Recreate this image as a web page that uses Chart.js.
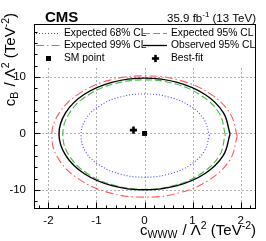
<!DOCTYPE html>
<html>
<head>
<meta charset="utf-8">
<script src="https://cdn.jsdelivr.net/npm/chart.js@4.4.1/dist/chart.umd.min.js"></script>
<style>
  html, body { margin: 0; padding: 0; background: #fff; }
  #wrap { width: 266px; height: 241px; }
</style>
</head>
<body>
<div id="wrap"><canvas id="myChart" width="266" height="241"></canvas></div>
<script>
// contour points: c_WWW (x) and c_B (y)
const exp68X = [1.35, 1.24, 0.95, 0.51, 0, -0.51, -0.94, -1.23, -1.32, -1.23, -0.94, -0.51, 0, 0.51, 0.95, 1.24, 1.35];
const exp68Y = [-0.4, 2.45, 4.85, 6.45, 7.0, 6.45, 4.85, 2.45, -0.4, -3.2, -5.6, -7.2, -7.76, -7.2, -5.6, -3.2, -0.4];
const exp95X = [1.68, 1.56, 1.19, 0.65, 0, -0.65, -1.2, -1.57, -1.70, -1.57, -1.2, -0.65, 0, 0.65, 1.19, 1.56, 1.68];
const exp95Y = [-0.2, 3.5, 6.65, 8.75, 9.5, 8.75, 6.65, 3.5, -0.2, -3.9, -7.05, -9.15, -9.9, -9.15, -7.05, -3.9, -0.2];
const exp99X = [1.93, 1.78, 1.36, 0.74, 0, -0.74, -1.36, -1.78, -1.93, -1.78, -1.36, -0.74, 0, 0.74, 1.36, 1.78, 1.93];
const exp99Y = [-0.5, 3.55, 7.05, 9.4, 10.2, 9.4, 7.05, 3.55, -0.5, -4.65, -8.15, -10.5, -11.3, -10.5, -8.15, -4.65, -0.5];
const obs95X = [1.78, 1.64, 1.26, 0.68, 0, -0.68, -1.26, -1.64, -1.78, -1.64, -1.26, -0.68, 0, 0.68, 1.26, 1.64, 1.78];
const obs95Y = [-0.1, 3.7, 6.9, 9.05, 9.8, 9.05, 6.9, 3.7, -0.1, -3.9, -7.1, -9.25, -10.0, -9.25, -7.1, -3.9, -0.1];
const smPoint = [0, 0];
const bestFit = [-0.23, 0.58];

const xTickVals = [-2, -1, 0, 1, 2];
const yTickVals = [-10, 0, 10];

const FONT = "'Liberation Sans', Arial, Helvetica, sans-serif";

const BLUE = 'rgb(70,70,250)';
const GREEN = 'rgb(70,185,70)';
const RED = 'rgb(255,90,90)';
const BLACK = '#000';

function toPts(xs, ys) {
  return xs.map((x, i) => ({ x: x, y: ys[i] }));
}

function contour(xs, ys, color, dash, width) {
  return {
    data: toPts(xs, ys),
    showLine: true,
    borderColor: color,
    borderWidth: width,
    borderDash: dash,
    pointRadius: 0,
    tension: 0.4,
    fill: false
  };
}

// index 0 is drawn on top
const datasets = [
  { data: [{ x: bestFit[0], y: bestFit[1] }], pointStyle: 'cross', pointRadius: 3.6, borderWidth: 2.6, borderColor: BLACK, backgroundColor: BLACK },
  { data: [{ x: smPoint[0], y: smPoint[1] }], pointStyle: 'rect', pointRadius: 3.5, borderWidth: 0, backgroundColor: BLACK },
  contour(obs95X, obs95Y, BLACK, [], 1.4),
  contour(exp95X, exp95Y, GREEN, [7, 3], 1.1),
  contour(exp68X, exp68Y, BLUE, [1, 2], 1.1),
  contour(exp99X, exp99Y, RED, [8, 3, 1.5, 3], 1.1)
];

function line(ctx, x1, y1, x2, y2) {
  ctx.beginPath(); ctx.moveTo(x1, y1); ctx.lineTo(x2, y2); ctx.stroke();
}

// draws text pieces in a row; pieces: [text, size, dy, extra gap]
function pieces(ctx, parts, x, y) {
  let cx = x;
  parts.forEach(p => {
    ctx.font = p[1] + 'px ' + FONT;
    ctx.fillText(p[0], cx, y + p[2]);
    cx += ctx.measureText(p[0]).width + (p[3] || 0);
  });
  return cx;
}
function piecesWidth(ctx, parts) {
  let w = 0;
  parts.forEach(p => { ctx.font = p[1] + 'px ' + FONT; w += ctx.measureText(p[0]).width + (p[3] || 0); });
  return w;
}

const legendH = 42.5;

const framePlugin = {
  id: 'frame',
  beforeDatasetsDraw(chart) {
    const { ctx, chartArea: a, scales: { x, y } } = chart;
    ctx.save();
    ctx.strokeStyle = '#b0b0b0';
    ctx.lineWidth = 1;
    ctx.setLineDash([2, 2]);
    xTickVals.forEach(v => {
      const px = Math.round(x.getPixelForValue(v)) + 0.5;
      line(ctx, px, a.top, px, a.bottom);
    });
    yTickVals.forEach(v => {
      const py = Math.round(y.getPixelForValue(v)) + 0.5;
      line(ctx, a.left, py, a.right, py);
    });
    ctx.setLineDash([]);
    ctx.fillStyle = '#fff';
    ctx.fillRect(a.left, a.top, a.right - a.left, legendH);
    ctx.restore();
  },
  afterDraw(chart) {
    const { ctx, chartArea: a, scales: { x, y } } = chart;
    ctx.save();
    ctx.strokeStyle = '#000';
    ctx.lineWidth = 1;
    const L = Math.round(a.left) + 0.5, R = Math.round(a.right) - 0.5;
    const T = Math.round(a.top) + 0.5, B = Math.round(a.bottom) - 0.5;
    ctx.strokeRect(L, T, R - L, B - T);

    // tick marks inside the frame
    for (let i = -22; i <= 22; i += 2) {
      const px = Math.round(x.getPixelForValue(i / 10)) + 0.5;
      const len = (i % 10 === 0) ? 6 : 3;
      line(ctx, px, B, px, B - len);
    }
    for (let v = -12; v <= 18; v += 2) {
      const py = Math.round(y.getPixelForValue(v)) + 0.5;
      const len = (v % 10 === 0) ? 6 : 3;
      line(ctx, L, py, L + len, py);
    }

    // legend
    const rows = [a.top + 9, a.top + 21, a.top + 34];
    const c1 = a.left + 2, c2 = a.left + 109;
    ctx.textBaseline = 'middle';
    ctx.fillStyle = '#000';
    ctx.font = '10.3px ' + FONT;
    const sample = (cx, cy, color, dash, w) => {
      ctx.strokeStyle = color; ctx.lineWidth = w; ctx.setLineDash(dash);
      line(ctx, cx, cy + 0.5, cx + 24, cy + 0.5);
      ctx.setLineDash([]);
    };
    sample(c1, rows[0], BLUE, [1, 2], 1.1);
    ctx.fillText('Expected 68% CL', c1 + 28, rows[0]);
    sample(c2, rows[0], GREEN, [7, 3], 1.2);
    ctx.fillText('Expected 95% CL', c2 + 28, rows[0]);
    sample(c1, rows[1], RED, [8, 3, 1.5, 3], 1.1);
    ctx.fillText('Expected 99% CL', c1 + 28, rows[1]);
    sample(c2, rows[1], BLACK, [], 1.3);
    ctx.fillText('Observed 95% CL', c2 + 28, rows[1]);
    ctx.fillRect(c1 + 12.5 - 2.5, rows[2] - 2, 5, 5);
    ctx.fillText('SM point', c1 + 28, rows[2]);
    ctx.strokeStyle = BLACK; ctx.lineWidth = 2.6;
    line(ctx, c2 + 12.5 - 3.6, rows[2] + 0.5, c2 + 12.5 + 3.6, rows[2] + 0.5);
    line(ctx, c2 + 12.5, rows[2] - 3.1, c2 + 12.5, rows[2] + 4.1);
    ctx.fillText('Best-fit', c2 + 28, rows[2]);

    // header
    ctx.textBaseline = 'alphabetic';
    ctx.font = 'bold 15px ' + FONT;
    ctx.fillText('CMS', 45, 21.5);
    const lumi = [['35.9 fb', 11.5, 0], ['-1', 8, -4.5], [' (13 TeV)', 11.5, 0]];
    pieces(ctx, lumi, 256 - piecesWidth(ctx, lumi), 21.5);

    // x axis title
    const xt = [['c', 15, 0], ['WWW', 10.5, 3.2, 1], [' / \u039B', 15, 0], ['2', 10.5, -6], [' (TeV', 15, 0], ['-2', 10.5, -6], [')', 15, 0]];
    pieces(ctx, xt, 256 - piecesWidth(ctx, xt), 235);

    // y axis title, reads bottom to top, ends near the top of the frame
    const yt = [['c', 15, 0], ['B', 10.5, 3.2, 1], [' / \u039B', 15, 0], ['2', 10.5, -6], [' (TeV', 15, 0], ['-2', 10.5, -6], [')', 15, 0]];
    ctx.translate(15, 13);
    ctx.rotate(-Math.PI / 2);
    const yw = piecesWidth(ctx, yt);
    pieces(ctx, yt, -yw, 0);
    ctx.restore();
  }
};

const myChart = new Chart(document.getElementById('myChart'), {
  type: 'scatter',
  data: { datasets: datasets },
  options: {
    responsive: false,
    animation: false,
    devicePixelRatio: 1,
    layout: { padding: { top: 24, right: 10, left: 0, bottom: 0 } },
    plugins: { legend: { display: false }, tooltip: { enabled: false } },
    scales: {
      x: {
        type: 'linear', min: -2.3, max: 2.32,
        grid: { display: false, drawTicks: false },
        border: { display: false },
        ticks: { color: '#000', font: { family: FONT, size: 11.5 }, padding: 5, maxRotation: 0 },
        afterBuildTicks: s => { s.ticks = xTickVals.map(v => ({ value: v })); },
        afterFit: s => { s.height = 32; }
      },
      y: {
        type: 'linear', min: -13.4, max: 19.4,
        grid: { display: false, drawTicks: false },
        border: { display: false },
        ticks: { color: '#000', font: { family: FONT, size: 11.5 }, padding: 8 },
        afterBuildTicks: s => { s.ticks = yTickVals.map(v => ({ value: v })); },
        afterFit: s => { s.width = 34; }
      }
    }
  },
  plugins: [framePlugin]
});
</script>
</body>
</html>
